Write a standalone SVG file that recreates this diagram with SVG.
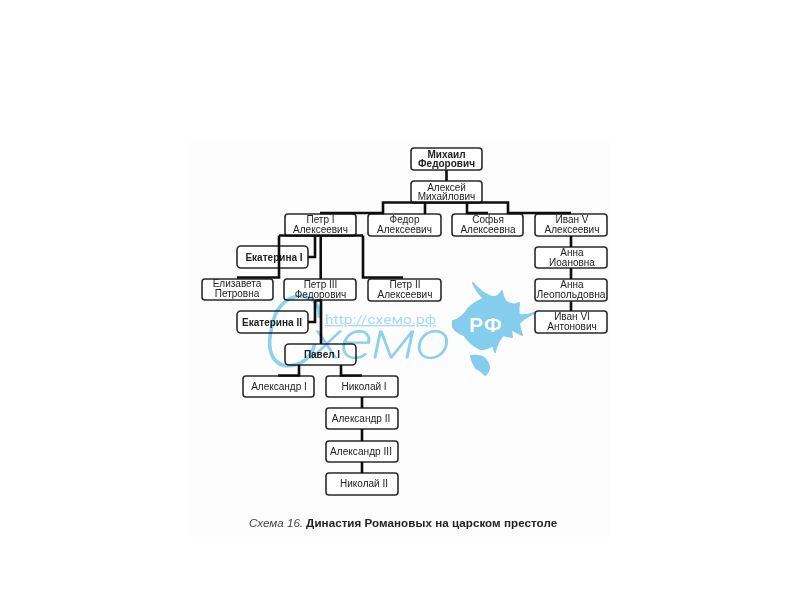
<svg xmlns="http://www.w3.org/2000/svg" width="800" height="600" viewBox="0 0 800 600">
<defs>
<style>
.t{font-family:"Liberation Sans",Arial,sans-serif;font-size:10px;fill:#222;text-anchor:middle}
.b{fill:#fff;stroke:#2a2a2a;stroke-width:1.6}
.c{fill:none;stroke:#111;stroke-width:2.6}
.wm{font-family:Roboto,"Liberation Sans",sans-serif;font-weight:100;font-style:italic;fill:#8fd2ef;stroke:#8fd2ef;stroke-width:1}
.sp{fill:#86cfee;stroke:#86cfee;stroke-width:2;stroke-linejoin:round}
</style>
<filter id="soft" x="-5%" y="-5%" width="110%" height="110%"><feGaussianBlur stdDeviation="0.45"/></filter>
</defs>
<rect width="800" height="600" fill="#fff"/>
<rect x="188" y="140" width="423" height="397" fill="#fdfdfd"/>
<g id="diagram" filter="url(#soft)">
<g id="nodes">
<g id="n-mikhail"><rect class="b" x="411" y="148" width="71" height="22" rx="3"/><text class="t" font-weight="bold" x="446.500" y="157.500">Михаил</text><text class="t" x="446.500" y="167" font-weight="bold">Федорович</text></g>
<g id="n-aleksei"><rect class="b" x="411" y="181" width="71" height="22" rx="3"/><text class="t" x="446.500" y="190.500">Алексей</text><text class="t" x="446.500" y="200">Михайлович</text></g>
<g id="n-petr1"><rect class="b" x="285" y="214" width="71" height="22" rx="3"/><text class="t" x="320.500" y="222.500">Петр I</text><text class="t" x="320.500" y="232.500">Алексеевич</text></g>
<g id="n-fedor"><rect class="b" x="368" y="214" width="73" height="22" rx="3"/><text class="t" x="404.500" y="222.500">Федор</text><text class="t" x="404.500" y="232.500">Алексеевич</text></g>
<g id="n-sofia"><rect class="b" x="452" y="214" width="71" height="22" rx="3"/><text class="t" x="488" y="222.500">Софья</text><text class="t" x="488" y="232.500">Алексеевна</text></g>
<g id="n-ivan5"><rect class="b" x="535" y="214" width="72" height="22" rx="3"/><text class="t" x="572" y="222.500">Иван V</text><text class="t" x="572" y="232.500">Алексеевич</text></g>
<g id="n-ekaterina1"><rect class="b" x="237" y="246" width="71" height="22" rx="4"/><text class="t" font-weight="bold" x="274" y="260.500">Екатерина I</text></g>
<g id="n-anna-i"><rect class="b" x="535" y="247" width="72" height="21" rx="3"/><text class="t" x="572" y="255.500">Анна</text><text class="t" x="572" y="265.500">Иоановна</text></g>
<g id="n-elizaveta"><rect class="b" x="202" y="279" width="71" height="21" rx="3"/><text class="t" x="237" y="287">Елизавета</text><text class="t" x="237" y="297">Петровна</text></g>
<g id="n-petr3"><rect class="b" x="284" y="279" width="72" height="21" rx="3"/><text class="t" x="320.500" y="287.500">Петр  III</text><text class="t" x="320.500" y="297.500">Федорович</text></g>
<g id="n-petr2"><rect class="b" x="368" y="279" width="73" height="22" rx="3"/><text class="t" x="405" y="288">Петр  II</text><text class="t" x="405" y="298">Алексеевич</text></g>
<g id="n-anna-l"><rect class="b" x="535" y="279" width="72" height="22" rx="3"/><text class="t" x="572" y="287.500">Анна</text><text class="t" x="571" y="297.500" textLength="69" lengthAdjust="spacingAndGlyphs">Леопольдовна</text></g>
<g id="n-ekaterina2"><rect class="b" x="237" y="311" width="71" height="22" rx="4"/><text class="t" font-weight="bold" x="272" y="325.500" textLength="60" lengthAdjust="spacingAndGlyphs">Екатерина II</text></g>
<g id="n-ivan6"><rect class="b" x="535" y="311" width="72" height="22" rx="3"/><text class="t" x="572" y="320">Иван VI</text><text class="t" x="572" y="330">Антонович</text></g>
<g id="n-pavel"><rect class="b" x="285" y="344" width="71" height="21" rx="4"/><text class="t" font-weight="bold" x="322" y="357.500">Павел I</text></g>
<g id="n-aleksandr1"><rect class="b" x="243" y="376" width="71" height="21" rx="3"/><text class="t" x="279" y="389.500">Александр I</text></g>
<g id="n-nikolai1"><rect class="b" x="326" y="376" width="72" height="21" rx="3"/><text class="t" x="364" y="389.500">Николай I</text></g>
<g id="n-aleksandr2"><rect class="b" x="326" y="408" width="72" height="21" rx="3"/><text class="t" x="361" y="422">Александр II</text></g>
<g id="n-aleksandr3"><rect class="b" x="326" y="441" width="72" height="21" rx="3"/><text class="t" x="361" y="454.500" textLength="62" lengthAdjust="spacingAndGlyphs">Александр III</text></g>
<g id="n-nikolai2"><rect class="b" x="326" y="473" width="72" height="22" rx="3"/><text class="t" x="364" y="487">Николай II</text></g>
</g>
<g id="connectors">
<path class="c" d="M446.500 170V181"/>
<path class="c" d="M320 213H383V202.500H508V213H571"/>
<path class="c" d="M425 202.500V214M467 202.500V214M467 213H488"/>
<path class="c" d="M279 235.500H363M279 235.500V277.500H237M315 235.500V257H308M320.700 235.500V279M363 235.500V277.500H403"/>
<path class="c" d="M315 300.500H322M315 300.500V322H308M321 300.500V344"/>
<path class="c" d="M299 365V375.500H278M341 365V375.500H362"/>
<path class="c" d="M362 397V408M362 429V441M362 462V473"/>
<path class="c" d="M571 236V247M571 268V279M571 301V311"/>
</g>
<text x="249" y="527" font-family="'Liberation Sans',Arial,sans-serif" font-size="11.600" fill="#222"><tspan font-style="italic" fill="#444">Схема 16.</tspan><tspan font-weight="bold" dx="3" letter-spacing="0.050">Династия Романовых на царском престоле</tspan></text>
</g>
<g id="watermark" style="mix-blend-mode:multiply" filter="url(#soft)">
<text class="wm" x="262" y="366" font-size="98">С</text>
<text class="wm" x="312" y="358" font-size="52" textLength="138" lengthAdjust="spacingAndGlyphs">хемо</text>
<text x="325" y="324" font-family="Roboto,'Liberation Sans',sans-serif" font-size="13.500" fill="#aadcf2" text-decoration="underline" textLength="111" lengthAdjust="spacingAndGlyphs">http://схемо.рф</text>
<path class="sp" d="M453 321Q462 319 468 309Q476 301 484 299Q476 290 473 283Q481 293 492 297Q498 298 502 291Q503 300 508 303Q514 306 519 303Q518 310 519 315Q527 316 534 313Q524 318 519 323Q520 330 522 335Q515 331 511 329L512 337Q506 336 503 335Q497 342 495 352L493 345Q486 350 480 349Q470 344 464 335Q456 332 453 327Z"/>
<path class="sp" d="M471 356Q480 355 484 358Q490 364 489 369Q487 374 485 375Q481 370 476 368Q472 362 471 356Z"/>
<text x="486" y="332" font-family="'Liberation Sans',Arial,sans-serif" font-size="21" font-weight="bold" fill="#fff" text-anchor="middle" letter-spacing="1" style="mix-blend-mode:normal">РФ</text>
</g>
</svg>
